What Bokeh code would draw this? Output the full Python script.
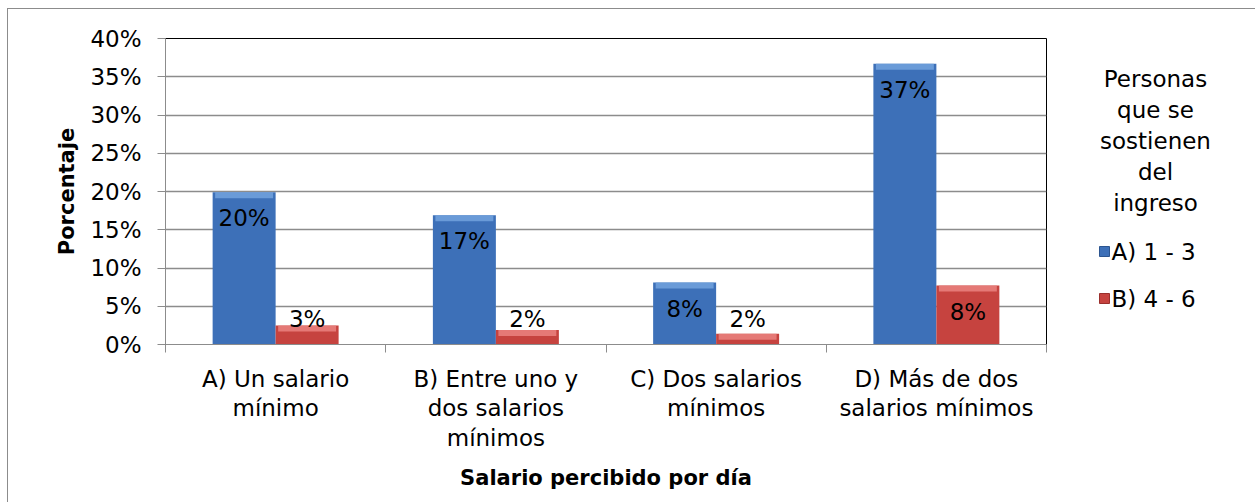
from bokeh.plotting import figure
from bokeh.layouts import row, column
from bokeh.models import Range1d, FixedTicker, PrintfTickFormatter, ColumnDataSource
from bokeh.core.properties import value
from bokeh.embed import file_html
from bokeh.resources import INLINE

# ---------------- data ----------------
CATEGORIES = ["A) Un salario\nmínimo",
              "B) Entre uno y\ndos salarios\nmínimos",
              "C) Dos salarios\nmínimos",
              "D) Más de dos\nsalarios mínimos"]
SERIES_NAMES = ["A) 1 - 3", "B) 4 - 6"]
BLUE_VALUES = [19.9, 16.9, 8.1, 36.7]
RED_VALUES = [2.5, 1.9, 1.4, 7.7]
BLUE_LABELS = ["20%", "17%", "8%", "37%"]
RED_LABELS = ["3%", "2%", "2%", "8%"]
Y_TICKS = [0, 5, 10, 15, 20, 25, 30, 35, 40]
LEGEND_TITLE_LINES = ["Personas", "que se", "sostienen", "del", "ingreso"]
X_TITLE = "Salario percibido por día"
Y_TITLE = "Porcentaje"

FONT = "DejaVu Sans"
BLUE = "#3d70b8"
BLUE_LIGHT = "#76a6e0"
RED = "#c6433f"
RED_LIGHT = "#ec8784"
GRID = "#8c8c8c"

n = len(CATEGORIES)
centers = [i + 0.5 for i in range(n)]
BW = 0.286
blue_x = [c - BW / 2 for c in centers]
red_x = [c + BW / 2 for c in centers]

W_MAIN, H = 1078, 493
B_TOP, B_BOTTOM = 29, 158
FRAME_H = H - B_TOP - B_BOTTOM

p = figure(width=W_MAIN, height=H, x_range=Range1d(0, n), y_range=Range1d(0, 40),
           output_backend="svg", toolbar_location=None,
           min_border_left=157, min_border_right=40, min_border_top=B_TOP, min_border_bottom=B_BOTTOM)
p.outline_line_color = "black"
p.outline_line_width = 1
p.background_fill_color = "white"
p.border_fill_color = "white"

# grid
p.xgrid.grid_line_color = None
p.ygrid.ticker = FixedTicker(ticks=Y_TICKS)
p.ygrid.grid_line_color = GRID
p.ygrid.grid_line_width = 1.5

# y axis
p.yaxis.ticker = FixedTicker(ticks=Y_TICKS)
p.yaxis.formatter = PrintfTickFormatter(format="%d%%")
p.yaxis.axis_line_color = GRID
p.yaxis.major_tick_line_color = GRID
p.yaxis.major_tick_out = 8
p.yaxis.major_tick_in = 0
p.yaxis.minor_tick_line_color = None
p.yaxis.major_label_standoff = 16
p.yaxis.major_label_text_font = FONT
p.yaxis.major_label_text_font_size = "23px"
p.yaxis.major_label_text_color = "black"
p.yaxis.axis_label = Y_TITLE
p.yaxis.axis_label_text_font = FONT
p.yaxis.axis_label_text_font_size = "21px"
p.yaxis.axis_label_text_font_style = "bold"
p.yaxis.axis_label_text_color = "black"
p.yaxis.axis_label_standoff = 8

# x axis
p.xaxis.ticker = FixedTicker(ticks=centers, minor_ticks=list(range(n + 1)))
p.xaxis.major_label_overrides = {c: lab for c, lab in zip(centers, CATEGORIES)}
p.xaxis.axis_line_color = GRID
p.xaxis.major_tick_line_color = None
p.xaxis.major_tick_out = 0
p.xaxis.major_tick_in = 0
p.xaxis.minor_tick_line_color = GRID
p.xaxis.minor_tick_out = 8
p.xaxis.minor_tick_in = 0
p.xaxis.major_label_standoff = 13
p.xaxis.major_label_text_font = FONT
p.xaxis.major_label_text_font_size = "23px"
p.xaxis.major_label_text_color = "black"
p.xaxis.major_label_text_line_height = 1.15
p.xaxis.axis_label = X_TITLE
p.xaxis.axis_label_text_font = FONT
p.xaxis.axis_label_text_font_size = "21px"
p.xaxis.axis_label_text_font_style = "bold"
p.xaxis.axis_label_text_color = "black"
p.xaxis.axis_label_standoff = 12

# bars
PX_PER_UNIT = FRAME_H / 40.0
BEVEL = 6 / PX_PER_UNIT
for xs, vals, col, light in ((blue_x, BLUE_VALUES, BLUE, BLUE_LIGHT), (red_x, RED_VALUES, RED, RED_LIGHT)):
    p.vbar(x=xs, top=vals, bottom=0, width=BW, fill_color=col, line_color=None)
    p.vbar(x=xs, top=vals, bottom=[max(v - BEVEL, 0) for v in vals], width=BW * 0.92,
           fill_color=light, line_color=None, fill_alpha=0.8)

# data labels: inside end if the bar is tall enough, else just above the axis
def label_pos(vals):
    ys, offs = [], []
    for v in vals:
        if v * PX_PER_UNIT > 45:
            ys.append(v); offs.append(26)
        else:
            ys.append(0); offs.append(-26)
    return ys, offs

for xs, vals, labs in ((blue_x, BLUE_VALUES, BLUE_LABELS), (red_x, RED_VALUES, RED_LABELS)):
    ys, offs = label_pos(vals)
    src = ColumnDataSource(dict(x=xs, y=ys, t=labs, off=offs))
    p.text(x="x", y="y", text="t", y_offset="off", source=src, text_align="center",
           text_baseline="middle", text_font=value(FONT), text_font_size="23px", text_color="black")

# ---------------- legend figure (frame aligned with the main frame) ----------------
W_LEG = 1255 - 7 - 1 - W_MAIN
leg = figure(width=W_LEG, height=H, x_range=Range1d(0, W_LEG), y_range=Range1d(FRAME_H, 0),
             output_backend="svg", toolbar_location=None,
             min_border_left=0, min_border_right=0, min_border_top=B_TOP, min_border_bottom=B_BOTTOM)
leg.axis.visible = False
leg.grid.grid_line_color = None
leg.outline_line_color = None
leg.border_fill_color = "white"
leg.background_fill_color = "white"

title_y = [40 + 31 * i for i in range(len(LEGEND_TITLE_LINES))]
leg.text(x=[69] * len(LEGEND_TITLE_LINES), y=title_y, text=LEGEND_TITLE_LINES,
         text_align="center", text_baseline="middle", text_font=value(FONT),
         text_font_size="23px", text_color="black")
item_y = [213, 260]
leg.scatter(x=[18, 18], y=item_y, marker="square", size=10,
            fill_color=[BLUE, RED], line_color=["#2c5590", "#9a2f2c"])
leg.text(x=[25, 25], y=item_y, text=SERIES_NAMES, text_align="left", text_baseline="middle",
         text_font=value(FONT), text_font_size="23px", text_color="black")

inner = row(p, leg, styles={"border-left": "1px solid #8c8c8c", "border-top": "1px solid #8c8c8c"})
outer = column(inner, styles={"padding-left": "7px", "padding-top": "8px", "background-color": "white"})
open("out.html", "w").write(file_html(outer, INLINE))
